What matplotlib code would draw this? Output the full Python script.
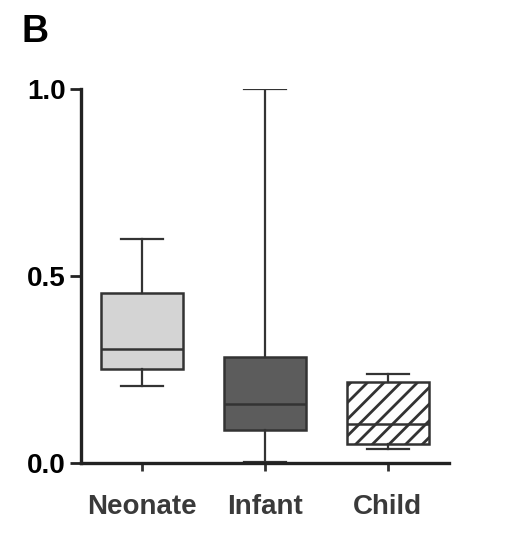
import matplotlib
matplotlib.use("Agg")
import matplotlib.pyplot as plt

categories = ["Neonate", "Infant", "Child"]
whisker_low = [0.206, 0.003, 0.037]
q1 = [0.251, 0.088, 0.051]
median = [0.305, 0.158, 0.104]
q3 = [0.455, 0.283, 0.217]
whisker_high = [0.599, 1.0, 0.238]
y_ticks = [0.0, 0.5, 1.0]
y_tick_labels = ["0.0", "0.5", "1.0"]

face_colors = ["#d4d4d4", "#5c5c5c", "#ffffff"]
hatches = [None, None, "//"]
edge = "#333333"

plt.rcParams["font.family"] = ["Liberation Sans", "DejaVu Sans"]
plt.rcParams["hatch.linewidth"] = 2.0
plt.rcParams["hatch.color"] = "#222222"

fig = plt.figure(figsize=(5.14, 5.45), dpi=100)
ax = fig.add_axes([81/514, 1-463/545, (449-81)/514, (463-89)/545])

stats = []
for i, c in enumerate(categories):
    stats.append(dict(label=c, whislo=whisker_low[i], q1=q1[i], med=median[i],
                      q3=q3[i], whishi=whisker_high[i], fliers=[]))

bp = ax.bxp(stats, positions=[1, 2, 3], widths=0.67, patch_artist=True,
            showfliers=False, capwidths=0.34,
            boxprops=dict(linewidth=1.8, edgecolor=edge),
            medianprops=dict(color=edge, linewidth=1.8),
            whiskerprops=dict(color=edge, linewidth=1.6),
            capprops=dict(color=edge, linewidth=1.6))
for patch, fc, h in zip(bp["boxes"], face_colors, hatches):
    patch.set_facecolor(fc)
    if h:
        patch.set_hatch(h)

ax.set_xlim(0.5, 3.5)
ax.set_ylim(0, 1.0)
ax.set_yticks(y_ticks)
ax.set_yticklabels(y_tick_labels, fontsize=20, fontweight="bold")
ax.set_xticks([1, 2, 3])
ax.set_xticklabels(categories, fontsize=20, fontweight="bold", color="#3a3a3a")
ax.spines["top"].set_visible(False)
ax.spines["right"].set_visible(False)
for s in ["left", "bottom"]:
    ax.spines[s].set_linewidth(2.4)
    ax.spines[s].set_color("#222222")
ax.tick_params(axis="y", length=8, width=2, color="#222222", pad=3)
ax.tick_params(axis="x", length=6, width=2, color="#333333", pad=16)
ax.spines["left"].set_bounds(0, 1.0)

fig.text(22/514, 1-42/545, "B", fontsize=27, fontweight="bold", ha="left", va="baseline")

fig.savefig("out.png", dpi=100)
